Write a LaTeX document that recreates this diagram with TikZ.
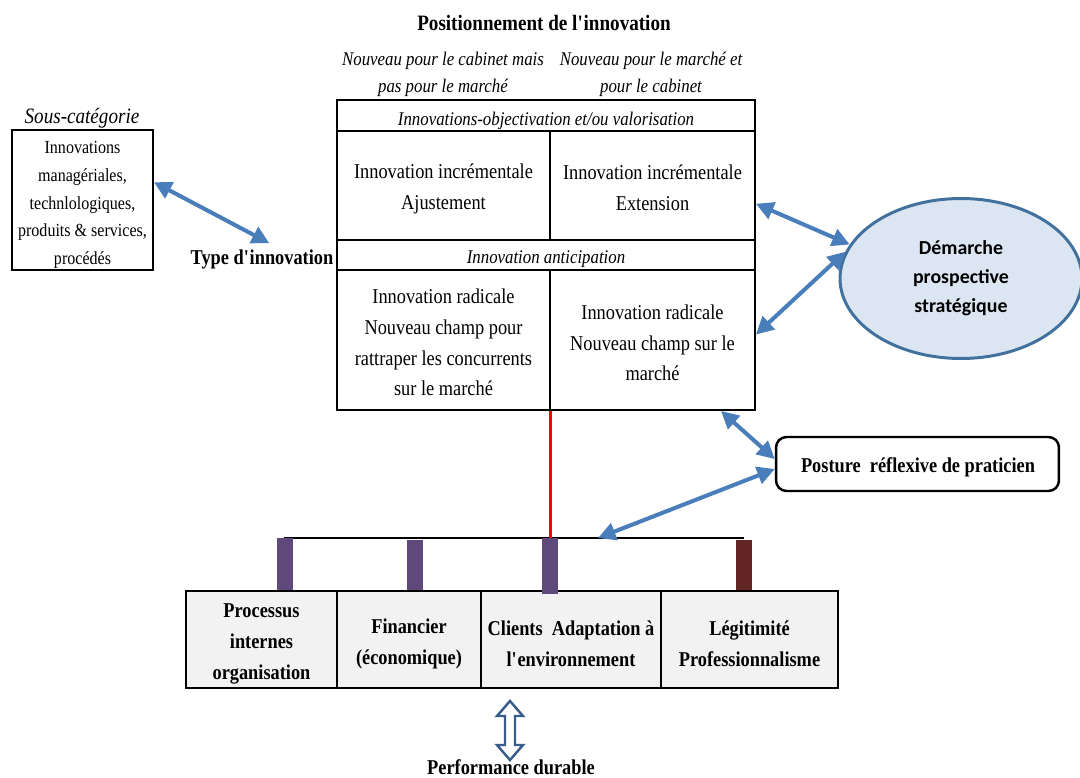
\documentclass[tikz,border=0pt]{standalone}
\usepackage{fontspec}
\setmainfont[FakeStretch=0.87]{Liberation Serif}
\newfontfamily\calibri{Carlito}
\usetikzlibrary{arrows.meta,shapes.geometric}

\definecolor{bleufleche}{RGB}{74,126,187}
\definecolor{fondellipse}{RGB}{220,230,242}
\definecolor{bordellipse}{RGB}{65,113,156}
\definecolor{violetpilier}{RGB}{95,73,122}
\definecolor{bordeaux}{RGB}{99,37,35}
\definecolor{grisclair}{RGB}{242,242,242}
\definecolor{bleufonce}{RGB}{56,93,138}

\tikzset{
  cadre/.style={draw, line width=1.1pt, inner sep=0pt},
  texte/.style={align=center, inner sep=0pt, font=\fontsize{12}{17.5}\selectfont},
  titrecol/.style={align=center, inner sep=0pt, font=\itshape\fontsize{11}{15.3}\selectfont},
  flechebleue/.style={bleufleche, line width=2.3pt, <->,
    >={Triangle[length=10pt,width=10pt]}},
  pilier/.style={minimum width=0.32cm, inner sep=0pt},
  axe/.style={draw, fill=grisclair, line width=1.1pt, inner sep=0pt, minimum height=1.94cm},
  texteaxe/.style={align=center, inner sep=0pt, font=\bfseries\fontsize{12}{17.6}\selectfont}
}

\begin{document}
\begin{tikzpicture}[x=0.02cm, y=-0.02cm]
  \useasboundingbox (0,0) rectangle (1080,778);
  %titre
  \node[inner sep=0pt, font=\bfseries\fontsize{12.5}{15}\selectfont] (titre) at (544,23) {Positionnement de l\textquotesingle innovation};
  \node[titrecol] (colA) at (443,74) {Nouveau pour le cabinet mais\\pas pour le march\'e};
  \node[titrecol] (colB) at (651,74) {Nouveau pour le march\'e et\\pour le cabinet};

  %%%% GRILLE
  \node[cadre, minimum width=8.36cm, minimum height=0.62cm] (hdrA) at (546,115.5) {};
  \node[cadre, minimum width=4.26cm, minimum height=2.18cm] (c11) at (443.5,185.5) {};
  \node[cadre, minimum width=4.1cm, minimum height=2.18cm] (c12) at (652.5,185.5) {};
  \node[cadre, minimum width=8.36cm, minimum height=0.6cm] (hdrB) at (546,255) {};
  \node[cadre, minimum width=4.26cm, minimum height=2.8cm] (c21) at (443.5,340) {};
  \node[cadre, minimum width=4.1cm, minimum height=2.8cm] (c22) at (652.5,340) {};
  \node[titrecol] (thdrA) at (546,121) {Innovations-objectivation et/ou valorisation};
  \node[titrecol] (thdrB) at (546,259) {Innovation anticipation};
  \node[texte] (t11) at (443.5,189) {Innovation incr\'ementale\\Ajustement};
  \node[texte] (t12) at (652.5,187.5) {Innovation incr\'ementale\\Extension};
  \node[texte] (t21) at (443.5,342.5) {Innovation radicale\\Nouveau champ pour\\rattraper les concurrents\\sur le march\'e};
  \node[texte] (t22) at (652.5,343) {Innovation radicale\\Nouveau champ sur le\\march\'e};

  %sous-categorie
  \node[cadre, minimum width=2.82cm, minimum height=2.8cm] (souscat) at (82.5,200) {};
  \node[texte, font=\fontsize{10.5}{15.7}\selectfont] (tsouscat) at (82.5,205) {Innovations\\manag\'eriales,\\technlologiques,\\produits \& services,\\proc\'ed\'es};
  \node[inner sep=0pt, font=\itshape\fontsize{12.5}{15}\selectfont] (souscattitre) at (82,118) {Sous-cat\'egorie};
  \node[font=\bfseries\fontsize{12}{14}\selectfont] (typeinno) at (262,259) {Type d\textquotesingle innovation};
  \draw [flechebleue] (souscat.14) -- (typeinno.65);

  %demarche
  \node[ellipse, draw=bordellipse, fill=fondellipse, line width=1.7pt, minimum width=4.84cm, minimum height=3.2cm,
    align=center, font=\calibri\bfseries\fontsize{11.3}{16.4}\selectfont] (demarche) at (961,278.5) {D\'emarche\\prospective\\strat\'egique};
  \draw [flechebleue] (c12.-10) -- (demarche.163);
  \draw [flechebleue] (c22.3) -- (demarche.167);

  %posture
  \node[draw, rounded corners=6pt, line width=1.4pt, minimum width=5.66cm, minimum height=1.08cm] (posture) at (917.5,464) {};
  \node[inner sep=0pt, font=\bfseries\fontsize{12}{14}\selectfont] (tposture) at (918,467) {Posture~ r\'eflexive de praticien};

  %%%% AXES DE PERFORMANCE
  \node[axe, minimum width=3.02cm] (p1) at (261.5,639.5) {};
  \node[axe, minimum width=2.88cm] (p2) at (409,639.5) {};
  \node[axe, minimum width=3.6cm] (p3) at (571,639.5) {};
  \node[axe, minimum width=3.54cm] (p4) at (749.5,639.5) {};
  \node[texteaxe] (tp1) at (261.5,643.5) {Processus\\internes\\organisation};
  \node[texteaxe] (tp2) at (409,644) {Financier\\(\'economique)};
  \node[texteaxe] (tp3) at (571,643.5) {Clients~ Adaptation \`a\\l\textquotesingle environnement};
  \node[texteaxe] (tp4) at (749.5,643.5) {L\'egitimit\'e\\Professionnalisme};

  \coordinate (lgauche) at (284,538);
  \coordinate (ldroite) at (744,538);
  \coordinate (lcible) at (598,538);
  \draw [black, line width=1.5pt] (lgauche) -- (ldroite);
  \node[pilier, fill=violetpilier, minimum height=1.04cm] (b1) at (285,564) {};
  \node[pilier, fill=violetpilier, minimum height=1cm] (b2) at (415,565) {};
  \node[pilier, fill=violetpilier, minimum height=1.12cm] (b3) at (550,566) {};
  \node[pilier, fill=bordeaux, minimum height=1cm] (b4) at (744,565) {};

  \draw [red, line width=1.7pt] (c21.south east) -- (c21.south east |- lgauche);
  \draw [flechebleue] (c22.-46) -- (posture.178);
  \draw [flechebleue] (posture.182) -- (lcible);

  %performance durable
  \draw [bleufonce, line width=1.4pt, fill=white] (510,701) -- (523,716) -- (515,716) -- (515,745) -- (523,745)
    -- (510,760) -- (497,745) -- (505,745) -- (505,716) -- (497,716) -- cycle;
  \node[font=\bfseries\fontsize{12}{14}\selectfont] (perf) at (511,767) {Performance durable};
\end{tikzpicture}
\end{document}
